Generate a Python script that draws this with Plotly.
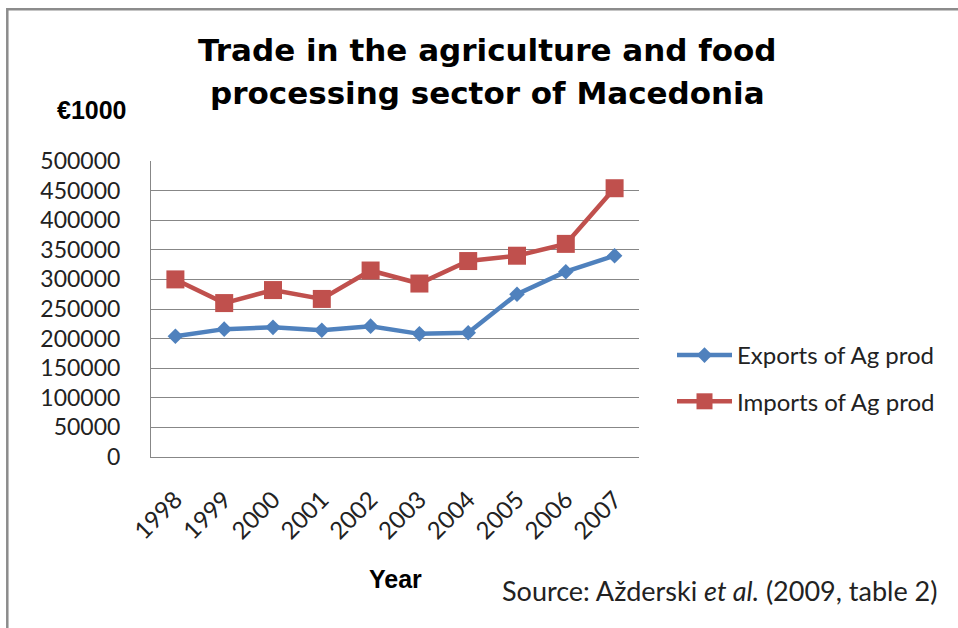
import plotly.graph_objects as go

# Annual trade values, thousands of euro
years = ["1998", "1999", "2000", "2001", "2002", "2003", "2004", "2005", "2006", "2007"]
exports_ag = [204000, 216000, 219000, 214000, 221000, 208000, 210000, 275000, 313000, 340000]
imports_ag = [300000, 260000, 282000, 267000, 315000, 293000, 331000, 340000, 360000, 454000]

y_ticks = list(range(0, 500001, 50000))

BLUE = "#4F81BD"
RED = "#C0504D"
GRID = "#878787"
BODY_FONT = "Lato"
HEAD_FONT = "DejaVu Sans"

W, H = 958, 628
L, R, T, B = 151, 319, 161, 171
PW, PH = W - L - R, H - T - B


def px_x(x):
    return (x - L) / PW


def px_y(y):
    return (H - B - y) / PH


fig = go.Figure()
fig.add_trace(go.Scatter(
    x=years, y=exports_ag, name="Exports of Ag prod", mode="lines+markers",
    line=dict(color=BLUE, width=4.5),
    marker=dict(symbol="diamond", size=12, color=BLUE),
    legendgroup="exp",
))
fig.add_trace(go.Scatter(
    x=years, y=imports_ag, name="Imports of Ag prod", mode="lines+markers",
    line=dict(color=RED, width=4.5),
    marker=dict(symbol="square", size=18, color=RED),
    legendgroup="imp",
))

fig.update_layout(
    width=W, height=H,
    margin=dict(l=L, r=R, t=T, b=B, autoexpand=False),
    paper_bgcolor="white", plot_bgcolor="white",
    showlegend=True,
    legend=dict(
        x=px_x(672), y=px_y(333), xanchor="left", yanchor="top",
        font=dict(family=BODY_FONT, size=24, color="#222222"),
        tracegroupgap=12, traceorder="grouped", itemwidth=55,
        bgcolor="rgba(0,0,0,0)",
    ),
    xaxis=dict(
        type="category", range=[-0.5, 9.5],
        showgrid=False, zeroline=False,
        showline=True, linecolor=GRID, linewidth=1,
        ticks="", tickangle=-45,
        tickfont=dict(family=BODY_FONT, size=24, color="#222222"),
        ticklabelstandoff=18,
    ),
    yaxis=dict(
        range=[0, 500000], tickvals=y_ticks, tickformat="d",
        showgrid=True, gridcolor=GRID, gridwidth=1,
        zeroline=False, showline=True, linecolor=GRID, linewidth=1,
        ticks="",
        tickfont=dict(family=BODY_FONT, size=23, color="#222222"),
        ticklabelstandoff=25,
    ),
    shapes=[dict(
        type="rect", xref="paper", yref="paper",
        x0=px_x(7.3), x1=px_x(975), y0=px_y(645), y1=px_y(9.3),
        line=dict(color="#8c8c8c", width=2.5), fillcolor="rgba(0,0,0,0)",
        layer="below",
    )],
)

annotations = [
    dict(text="<b>Trade in the agriculture and food</b>", x=px_x(487), y=px_y(50),
         font=dict(family=HEAD_FONT, size=31, color="black"), xanchor="center", yanchor="middle"),
    dict(text="<b>processing sector of Macedonia</b>", x=px_x(487), y=px_y(93),
         font=dict(family=HEAD_FONT, size=31, color="black"), xanchor="center", yanchor="middle"),
    dict(text="<b>€1000</b>", x=px_x(92), y=px_y(110),
         font=dict(family="Liberation Sans", size=25, color="black"), xanchor="center", yanchor="middle"),
    dict(text="<b>Year</b>", x=px_x(395), y=px_y(579),
         font=dict(family="Liberation Sans", size=25, color="black"), xanchor="center", yanchor="middle"),
    dict(text="Source: Ažderski <i>et al.</i> (2009, table 2)", x=px_x(500), y=px_y(590),
         font=dict(family=BODY_FONT, size=27, color="#222222"), xanchor="left", yanchor="middle"),
]
for a in annotations:
    a.update(xref="paper", yref="paper", showarrow=False)
fig.update_layout(annotations=annotations)

fig.write_html("out.html")
